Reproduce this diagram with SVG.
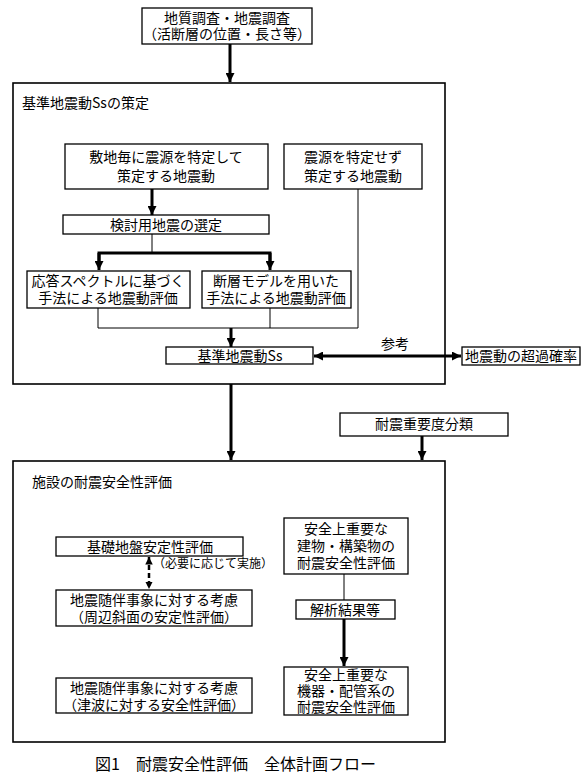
<svg xmlns="http://www.w3.org/2000/svg" width="588" height="777" viewBox="0 0 588 777">
<defs>
<marker id="ah" viewBox="0 0 10 10" refX="10" refY="5" markerWidth="3" markerHeight="3" orient="auto-start-reverse" markerUnits="strokeWidth">
<path d="M0,0 L10,5 L0,10 z" fill="#000"/>
</marker>
</defs>
<style>
rect.b{fill:#fff;stroke:#000;stroke-width:1.3}
rect.o{fill:none;stroke:#000;stroke-width:1.6}
text{font-family:"Noto Sans CJK JP","Noto Sans",sans-serif;font-size:14px;fill:#000}
text.c{text-anchor:middle}
.thick{stroke:#000;stroke-width:3;fill:none}
.thin{stroke:#000;stroke-width:1;fill:none}
.dash{stroke:#000;stroke-width:2.5;fill:none;stroke-dasharray:5,3}
</style>
<rect width="588" height="777" fill="#fff"/>

<g id="frame1"><rect class="o" x="13" y="83" width="432" height="301"/>
<text x="22" y="108">基準地震動Ssの策定</text></g>
<g id="frame2"><rect class="o" x="13" y="461" width="432" height="281"/>
<text x="32" y="487">施設の耐震安全性評価</text></g>

<g id="connectors">
<line class="thick" x1="230" y1="44" x2="230" y2="82" marker-end="url(#ah)"/>
<line class="thick" x1="152" y1="189" x2="152" y2="215" marker-end="url(#ah)"/>
<polyline class="thin" points="152,234 152,253"/>
<polyline class="thick" points="99,262 99,253 270,253 270,262"/>
<line class="thick" x1="99" y1="253" x2="99" y2="270" marker-end="url(#ah)"/>
<line class="thick" x1="270" y1="253" x2="270" y2="270" marker-end="url(#ah)"/>
<polyline class="thin" points="98,308 98,328 358,328 358,189"/>
<line class="thin" x1="270" y1="308" x2="270" y2="328"/>
<line class="thick" x1="231" y1="328" x2="231" y2="347" marker-end="url(#ah)"/>
<line class="thick" x1="314" y1="356" x2="461" y2="356" marker-start="url(#ah)" marker-end="url(#ah)"/>
<text class="c" x="395" y="349">参考</text>
<line class="thick" x1="231" y1="384" x2="231" y2="460" marker-end="url(#ah)"/>
<line class="thick" x1="422" y1="436" x2="422" y2="460" marker-end="url(#ah)"/>
<line class="dash" x1="149" y1="557" x2="149" y2="589" marker-start="url(#ah)" marker-end="url(#ah)"/>
<text x="153" y="568" style="font-size:12px">（必要に応じて実施）</text>
<line class="thin" x1="344" y1="574" x2="344" y2="600"/>
<line class="thick" x1="344" y1="619" x2="344" y2="666" marker-end="url(#ah)"/>
</g>

<g id="n-survey"><rect class="b" x="142" y="8" width="170" height="36"/>
<text class="c" x="227" y="23">地質調査・地震調査</text>
<text class="c" x="227" y="39">（活断層の位置・長さ等）</text></g>

<g id="n-specific"><rect class="b" x="65" y="144" width="203" height="45"/>
<text class="c" x="166" y="162">敷地毎に震源を特定して</text>
<text class="c" x="166" y="181">策定する地震動</text></g>

<g id="n-nonspecific"><rect class="b" x="284" y="144" width="138" height="45"/>
<text class="c" x="353" y="162">震源を特定せず</text>
<text class="c" x="353" y="181">策定する地震動</text></g>

<g id="n-select"><rect class="b" x="63" y="215" width="206" height="19"/>
<text class="c" x="166" y="230">検討用地震の選定</text></g>

<g id="n-response"><rect class="b" x="27" y="271" width="163" height="37"/>
<text class="c" x="108" y="286">応答スペクトルに基づく</text>
<text class="c" x="108" y="303">手法による地震動評価</text></g>

<g id="n-fault"><rect class="b" x="202" y="271" width="149" height="37"/>
<text class="c" x="276" y="286">断層モデルを用いた</text>
<text class="c" x="276" y="303">手法による地震動評価</text></g>

<g id="n-ss"><rect class="b" x="166" y="347" width="147" height="17"/>
<text class="c" x="240" y="361">基準地震動Ss</text></g>

<g id="n-prob"><rect class="b" x="462" y="347" width="118" height="18"/>
<text class="c" x="521" y="361">地震動の超過確率</text></g>

<g id="n-class"><rect class="b" x="340" y="413" width="168" height="23"/>
<text class="c" x="424" y="429">耐震重要度分類</text></g>

<g id="n-ground"><rect class="b" x="56" y="537" width="187" height="19"/>
<text class="c" x="150" y="552">基礎地盤安定性評価</text></g>

<g id="n-slope"><rect class="b" x="56" y="590" width="196" height="36"/>
<text class="c" x="154" y="605">地震随伴事象に対する考慮</text>
<text class="c" x="154" y="622">（周辺斜面の安定性評価）</text></g>

<g id="n-building"><rect class="b" x="284" y="518" width="124" height="56"/>
<text class="c" x="346" y="534">安全上重要な</text>
<text class="c" x="346" y="551">建物・構築物の</text>
<text class="c" x="346" y="568">耐震安全性評価</text></g>

<g id="n-result"><rect class="b" x="296" y="600" width="99" height="19"/>
<text class="c" x="345" y="615">解析結果等</text></g>

<g id="n-equip"><rect class="b" x="284" y="667" width="124" height="48"/>
<text class="c" x="346" y="680">安全上重要な</text>
<text class="c" x="346" y="696">機器・配管系の</text>
<text class="c" x="346" y="712">耐震安全性評価</text></g>

<g id="n-tsunami"><rect class="b" x="56" y="678" width="196" height="35"/>
<text class="c" x="154" y="693">地震随伴事象に対する考慮</text>
<text class="c" x="154" y="710">（津波に対する安全性評価）</text></g>

<text x="95" y="770" style="font-size:16px">図1　耐震安全性評価　全体計画フロー</text>
</svg>
